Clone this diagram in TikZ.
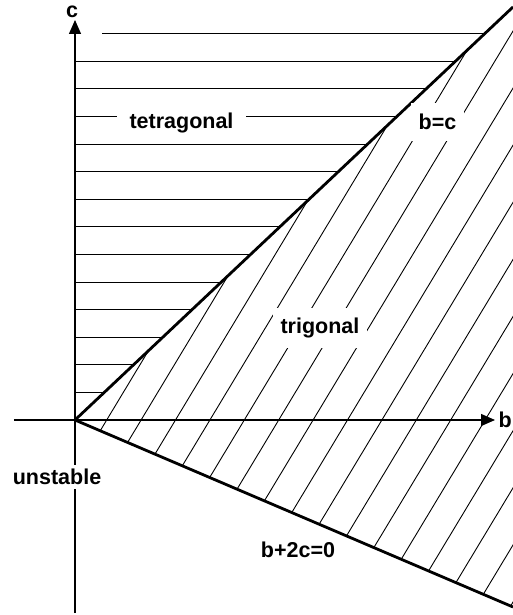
\documentclass[tikz,border=0pt]{standalone}
\usepackage{fontspec}
\setmainfont{Liberation Sans}
\usetikzlibrary{arrows.meta}

\begin{document}
\begin{tikzpicture}[
x=1pt, y=1pt,
axis/.style={line width=1.3pt, -{Triangle[length=14pt,width=12pt]}},
bound/.style={line width=2.8pt},
hatch/.style={line width=0.9pt},
phase/.style={fill=white, inner xsep=10pt, inner ysep=4pt, font=\fontsize{21.5}{26}\selectfont\bfseries},
axlabel/.style={inner sep=0pt, font=\fontsize{21.5}{26}\selectfont\bfseries}
]
\useasboundingbox (-75,-195) rectangle (438,420);
\coordinate (O) at (0,0);
\coordinate (bc) at (438,413);
\coordinate (bcc) at (438,-187);
\coordinate (bstart) at (-61,0);
\coordinate (bend) at (420,0);
\coordinate (cstart) at (0,-193);
\coordinate (cend) at (0,400);
% horizontal hatching, tetragonal region
\foreach \k in {1,...,13}
  \draw[hatch] (0,27.6*\k) -- ({27.6*\k*1.0605},27.6*\k);
\draw[hatch] (27,386.4) -- ({386.4*1.0605},386.4);
% oblique hatching, trigonal region
\begin{scope}
\clip (O) -- (bc) -- (bcc) -- cycle;
\foreach \k in {1,...,16}
  \draw[hatch] ({-2.7+34.4*\k-200/1.66},-200) -- ({-2.7+34.4*\k+420/1.66},420);
\end{scope}
% axes
\draw[axis] (bstart) -- (bend);
\draw[axis] (cstart) -- (cend);
\node[axlabel, anchor=west] (blabel) at (423.5,0) {b};
\node[axlabel] (clabel) at (-3,408) {c};
% phase boundaries
\draw[bound] (O) -- (bc);
\draw[bound] (O) -- (bcc);
% phase labels
\node[phase, inner xsep=13pt] (tetra) at (106.5,297) {tetragonal};
\node[phase, inner xsep=8pt, inner ysep=10pt] (trig) at (245,92) {trigonal};
\node[phase, inner xsep=8pt, inner ysep=11pt] (eqbc) at (362.5,298) {b=c};
\node[phase] (unst) at (-18,-57) {unstable};
\node[axlabel] (eqbcc) at (223,-130) {b+2c=0};
\end{tikzpicture}
\end{document}
